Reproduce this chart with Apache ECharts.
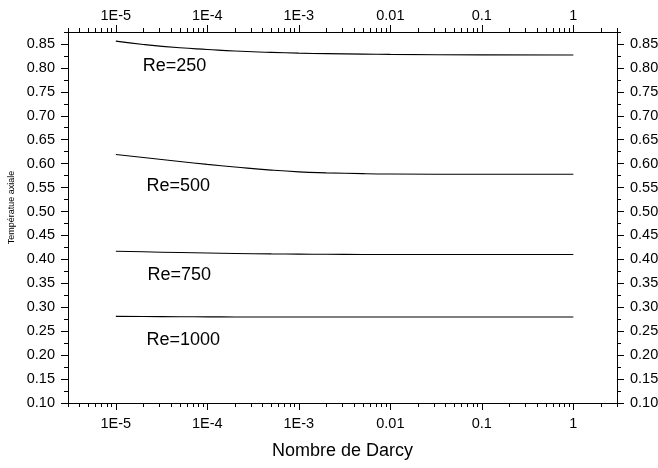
<!DOCTYPE html>
<html>
<head>
<meta charset="utf-8">
<script src="https://cdn.jsdelivr.net/npm/echarts@6/dist/echarts.min.js"></script>
<style>
  html, body { margin: 0; padding: 0; background: #fff; }
  #chart { width: 658px; height: 468px; }
</style>
</head>
<body>
<div id="chart"></div>
<script>
// Darcy numbers at which the axial temperature was sampled
const darcy = [1e-5, 2e-5, 5e-5, 1e-4, 2e-4, 5e-4, 1e-3, 2e-3, 5e-3, 1e-2, 1e-1, 1];

// Axial temperature for each Reynolds number
const re250  = [0.856, 0.849, 0.842, 0.8385, 0.8352, 0.8325, 0.8308, 0.8298, 0.8288, 0.8282, 0.8272, 0.827];
const re500  = [0.619, 0.6127, 0.6045, 0.5985, 0.5931, 0.5865, 0.5828, 0.5808, 0.5791, 0.5784, 0.5778, 0.5777];
const re750  = [0.417, 0.4158, 0.4143, 0.4133, 0.4124, 0.4115, 0.4110, 0.4106, 0.4103, 0.4102, 0.4101, 0.4101];
const re1000 = [0.281, 0.2807, 0.2803, 0.2800, 0.2798, 0.2797, 0.2796, 0.2796, 0.2796, 0.2796, 0.2796, 0.2796];

// Curve annotations: text and anchor (left edge, vertical middle) in data units
const curveNames = ['Re=250', 'Re=500', 'Re=750', 'Re=1000'];
const labelX = [1.97e-5, 2.16e-5, 2.22e-5, 2.16e-5];
const labelY = [0.804, 0.553, 0.367, 0.2305];

// Axis ranges and tick labels
const X_MIN = 3e-6, X_MAX = 3;
const Y_MIN = 0.10, Y_MAX = 0.875;
const xTickValues = [1e-5, 1e-4, 1e-3, 0.01, 0.1, 1];
const xTickLabels = ['1E-5', '1E-4', '1E-3', '0.01', '0.1', '1'];
const yTickValues = [0.10, 0.15, 0.20, 0.25, 0.30, 0.35, 0.40, 0.45, 0.50, 0.55, 0.60, 0.65, 0.70, 0.75, 0.80, 0.85];
const yTickLabels = ['0.10', '0.15', '0.20', '0.25', '0.30', '0.35', '0.40', '0.45', '0.50', '0.55', '0.60', '0.65', '0.70', '0.75', '0.80', '0.85'];

// Minor tick positions: 2..9 within each decade, and mid-points between y labels
const xMinorValues = [];
for (let e = -6; e <= 0; e++) {
  for (let m = 2; m <= 9; m++) {
    const v = m * Math.pow(10, e);
    if (v >= X_MIN * 0.9999 && v <= X_MAX * 1.0001) xMinorValues.push(v);
  }
}
const yMinorValues = [];
for (let i = 0; i < yTickValues.length; i++) {
  yMinorValues.push(+(yTickValues[i] + 0.025).toFixed(3));
}

const FONT = '"Liberation Sans", Arial, Helvetica, sans-serif';
const BLACK = '#000';

function xLabel(v) {
  const i = xTickValues.findIndex(t => Math.abs(Math.log10(t) - Math.log10(v)) < 1e-6);
  return i >= 0 ? xTickLabels[i] : '';
}
function yLabel(v) {
  const i = yTickValues.findIndex(t => Math.abs(t - v) < 1e-6);
  return i >= 0 ? yTickLabels[i] : '';
}

function xAxisDef(position, major) {
  return {
    type: 'log',
    logBase: 10,
    position: position,
    gridIndex: 0,
    min: X_MIN,
    max: X_MAX,
    axisLine: { show: true, onZero: false, lineStyle: { color: BLACK, width: 1 } },
    axisTick: {
      show: true, inside: false, length: major ? 7 : 4,
      customValues: major ? xTickValues : xMinorValues,
      lineStyle: { color: BLACK, width: 1 }
    },
    axisLabel: {
      show: major,
      customValues: xTickValues,
      formatter: xLabel,
      margin: position === 'bottom' ? 13 : 9,
      color: BLACK, fontFamily: FONT, fontSize: 14.5
    },
    splitLine: { show: false },
    minorTick: { show: false },
    minorSplitLine: { show: false }
  };
}

function yAxisDef(position, major) {
  return {
    type: 'value',
    position: position,
    gridIndex: 0,
    min: Y_MIN,
    max: Y_MAX,
    interval: 0.025,
    axisLine: { show: true, onZero: false, lineStyle: { color: BLACK, width: 1 } },
    axisTick: {
      show: true, inside: false, length: major ? 7 : 4,
      customValues: major ? yTickValues : yMinorValues,
      lineStyle: { color: BLACK, width: 1 }
    },
    axisLabel: {
      show: major,
      customValues: yTickValues,
      formatter: yLabel,
      margin: 13,
      color: BLACK, fontFamily: FONT, fontSize: 14.5
    },
    splitLine: { show: false },
    minorTick: { show: false }
  };
}

const xAxes = [xAxisDef('bottom', true), xAxisDef('bottom', false), xAxisDef('top', true), xAxisDef('top', false)];
xAxes[0].name = 'Nombre de Darcy';
xAxes[0].nameLocation = 'middle';
xAxes[0].nameGap = 39;
xAxes[0].nameTextStyle = { color: BLACK, fontFamily: FONT, fontSize: 18 };

const yAxes = [yAxisDef('left', true), yAxisDef('left', false), yAxisDef('right', true), yAxisDef('right', false)];

const curves = [re250, re500, re750, re1000];
const series = curves.map((vals, k) => ({
  type: 'line',
  xAxisIndex: 0,
  yAxisIndex: 0,
  data: darcy.map((d, i) => [d, vals[i]]),
  showSymbol: false,
  symbol: 'none',
  smooth: 0.5,
  lineStyle: { color: BLACK, width: 1.1 },
  silent: true,
  markPoint: {
    silent: true,
    symbol: 'circle',
    symbolSize: 0,
    itemStyle: { color: 'transparent' },
    label: {
      show: true,
      position: [0, 0],
      align: 'left',
      verticalAlign: 'middle',
      color: BLACK,
      fontFamily: FONT,
      fontSize: 18,
      formatter: curveNames[k]
    },
    data: [{ coord: [labelX[k], labelY[k]], value: curveNames[k] }]
  }
}));

const chart = echarts.init(document.getElementById('chart'), null, { renderer: 'canvas' });
chart.setOption({
  animation: false,
  backgroundColor: '#fff',
  grid: { left: 68, right: 41, top: 32, bottom: 65, containLabel: false, outerBoundsMode: 'none' },
  xAxis: xAxes,
  yAxis: yAxes,
  series: series,
  graphic: [{
    type: 'text',
    x: 12,
    y: 207.5,
    rotation: Math.PI / 2,
    style: {
      text: 'Températue axiale',
      fill: BLACK,
      font: '9px ' + FONT,
      align: 'center',
      verticalAlign: 'middle'
    }
  }]
});
</script>
</body>
</html>
